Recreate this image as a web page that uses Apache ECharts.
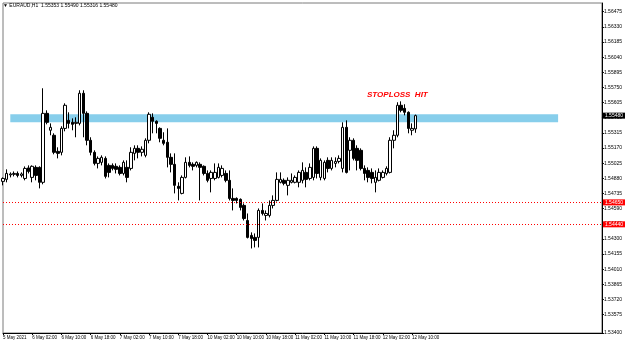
<!DOCTYPE html>
<html>
<head>
<meta charset="utf-8">
<script src="https://cdn.jsdelivr.net/npm/echarts/dist/echarts.min.js"></script>
<style>
html,body{margin:0;padding:0;background:#fff;}
#chart{width:625px;height:343px;}
</style>
</head>
<body>
<div id="chart"></div>
<script>
// x-axis tick labels, one every 8 hourly bars
const tickLabels = ["5 May 2021","6 May 02:00","6 May 10:00","6 May 18:00","7 May 02:00","7 May 10:00","7 May 18:00","10 May 02:00","10 May 10:00","10 May 18:00","11 May 02:00","11 May 10:00","11 May 18:00","12 May 02:00","12 May 10:00"];
const slotCount = 165; // visible hourly slots incl. empty space to the right
const categories = [];
for (let i = 0; i < slotCount; i++) categories.push('bar' + i);

// price axis labels
const priceTicks = [1.56475,1.56330,1.56185,1.56040,1.55895,1.55750,1.55605,1.55460,1.55315,1.55170,1.55025,1.54880,1.54735,1.54590,1.54445,1.54300,1.54155,1.54010,1.53865,1.53720,1.53575,1.53400];

const opens = [
1.54851,1.54870,1.54913,1.54918,1.54927,1.54908,1.54879,1.54980,1.54889,1.54985,
1.54985,1.54842,1.55502,1.55340,1.55292,1.55138,1.55129,1.55358,1.55435,1.55416,
1.55406,1.55406,1.55694,1.55502,1.55244,1.55129,1.55023,1.55033,1.55071,1.55004,
1.55004,1.54995,1.54985,1.54927,1.54985,1.54975,1.55119,1.55167,1.55129,1.55100,
1.55244,1.55464,1.55426,1.55358,1.55244,1.55225,1.55081,1.55014,1.54804,1.54736,
1.54889,1.55033,1.55014,1.55004,1.55014,1.54995,1.54927,1.54879,1.54879,1.54889,
1.54908,1.54927,1.54861,1.54688,1.54688,1.54679,1.54621,1.54477,1.54334,1.54315,
1.54315,1.54573,1.54525,1.54525,1.54621,1.54669,1.54842,1.54861,1.54813,1.54842,
1.54842,1.54842,1.54861,1.54937,1.54879,1.54889,1.55167,1.54889,1.54879,1.55052,
1.54975,1.55023,1.55042,1.54975,1.55368,1.55148,1.55244,1.55167,1.55148,1.54975,
1.54956,1.54937,1.54842,1.54861,1.54889,1.54927,1.54937,1.55244,1.55292,1.55579,
1.55550,1.55512,1.55340,1.55353];
const closes = [
1.54879,1.54927,1.54922,1.54927,1.54908,1.54922,1.54975,1.54946,1.54995,1.54908,
1.54842,1.55502,1.55416,1.55368,1.55129,1.55119,1.55358,1.55579,1.55406,1.55397,
1.55416,1.55694,1.55502,1.55244,1.55129,1.55023,1.55071,1.55081,1.54899,1.54937,
1.54975,1.54966,1.54927,1.55033,1.54889,1.55129,1.55167,1.55129,1.55158,1.55244,
1.55493,1.55426,1.55406,1.55263,1.55215,1.55081,1.55014,1.54813,1.54784,1.54889,
1.55033,1.55004,1.54995,1.55033,1.54985,1.54927,1.54861,1.54937,1.54937,1.54985,
1.54975,1.54861,1.54688,1.54669,1.54669,1.54602,1.54496,1.54315,1.54305,1.54286,
1.54573,1.54544,1.54544,1.54621,1.54669,1.54870,1.54870,1.54832,1.54861,1.54861,
1.54889,1.54937,1.54956,1.54870,1.54985,1.55167,1.54927,1.55052,1.55033,1.54975,
1.55052,1.55042,1.55071,1.55368,1.54937,1.55244,1.55071,1.55052,1.54975,1.54927,
1.54889,1.54879,1.54889,1.54937,1.54937,1.54975,1.55244,1.55292,1.55579,1.55531,
1.55512,1.55358,1.55358,1.55480];
const lows = [
1.54813,1.54842,1.54889,1.54899,1.54889,1.54889,1.54861,1.54927,1.54842,1.54861,
1.54784,1.54823,1.55397,1.55292,1.55110,1.55071,1.55100,1.55330,1.55358,1.55340,
1.55273,1.55387,1.55273,1.55196,1.55100,1.55004,1.54975,1.55004,1.54879,1.54889,
1.54956,1.54927,1.54908,1.54908,1.54842,1.54956,1.55052,1.55071,1.55090,1.55081,
1.55215,1.55311,1.55311,1.55225,1.55196,1.54985,1.54937,1.54736,1.54669,1.54727,
1.54879,1.54985,1.54956,1.54985,1.54669,1.54908,1.54842,1.54746,1.54861,1.54879,
1.54889,1.54842,1.54669,1.54573,1.54640,1.54573,1.54477,1.54305,1.54209,1.54219,
1.54219,1.54525,1.54477,1.54506,1.54592,1.54659,1.54832,1.54813,1.54717,1.54832,
1.54832,1.54794,1.54832,1.54794,1.54861,1.54861,1.54879,1.54861,1.54861,1.54937,
1.54956,1.54985,1.55023,1.54937,1.54927,1.54956,1.55052,1.54956,1.54956,1.54861,
1.54842,1.54832,1.54746,1.54851,1.54879,1.54908,1.54927,1.55167,1.55273,1.55512,
1.55483,1.55311,1.55292,1.55316];
const highs = [
1.54889,1.54966,1.54937,1.54946,1.54946,1.54937,1.54994,1.55004,1.55004,1.55004,
1.54995,1.55742,1.55531,1.55406,1.55311,1.55177,1.55378,1.55598,1.55512,1.55454,
1.55464,1.55723,1.55723,1.55521,1.55273,1.55148,1.55090,1.55100,1.55090,1.55023,
1.55023,1.55023,1.55004,1.55052,1.55052,1.55177,1.55196,1.55196,1.55186,1.55263,
1.55512,1.55502,1.55435,1.55368,1.55321,1.55358,1.55119,1.55119,1.54842,1.54908,
1.55081,1.55090,1.55033,1.55042,1.55033,1.55004,1.54956,1.54956,1.55023,1.55023,
1.55004,1.54956,1.54956,1.54784,1.54698,1.54688,1.54640,1.54544,1.54363,1.54353,
1.54592,1.54640,1.54573,1.54669,1.54717,1.54937,1.54937,1.54879,1.54889,1.54927,
1.54908,1.54956,1.55033,1.54985,1.55023,1.55186,1.55186,1.55071,1.55052,1.55081,
1.55081,1.55081,1.55100,1.55416,1.55435,1.55273,1.55263,1.55196,1.55167,1.55004,
1.54985,1.54975,1.54956,1.54975,1.54956,1.54995,1.55273,1.55340,1.55608,1.55617,
1.55589,1.55521,1.55406,1.55490];

// annotations
const zoneTop = 1.55494, zoneBottom = 1.55418, zoneStartBar = 2, zoneEndBar = 152;
const lastPrice = 1.55480;
const redLevels = [1.54650, 1.54440];

const candleData = opens.map((o, i) => [o, closes[i], lows[i], highs[i]]);
const FONT = '"Liberation Sans", Arial, sans-serif';
const firstCat = categories[0], lastCat = categories[slotCount - 1];

function levelLine(v, lineStyle, bg) {
  return [
    {coord: [firstCat, v], lineStyle: lineStyle, label: {show: true, position: 'end', distance: 1, formatter: v.toFixed(5), backgroundColor: bg, color: '#fff', fontSize: 5, padding: [1, 2, 0, 2], fontFamily: FONT}},
    {coord: [lastCat, v]}
  ];
}

const chart = echarts.init(document.getElementById('chart'), null, {renderer: 'canvas'});
chart.setOption({
  animation: false,
  backgroundColor: '#ffffff',
  grid: {left: 1, right: 21, top: 3, bottom: 10, show: true, borderColor: '#7a7a7a', borderWidth: 1, backgroundColor: '#fff'},
  xAxis: {
    type: 'category', data: categories, boundaryGap: false,
    axisLine: {lineStyle: {color: '#000', width: 1}},
    axisTick: {show: true, length: 2, lineStyle: {color: '#000'}, interval: (i) => i % 8 === 0 && i / 8 < tickLabels.length},
    axisLabel: {
      interval: (i) => i % 8 === 0 && i / 8 < tickLabels.length,
      formatter: (v, i) => (i % 8 === 0 && tickLabels[i / 8]) ? tickLabels[i / 8] : '',
      align: 'left', margin: 2, fontSize: 4.5, color: '#000', fontFamily: FONT, hideOverlap: false
    },
    splitLine: {show: false}
  },
  yAxis: {
    type: 'value', position: 'right', min: 1.53400, max: 1.56558, scale: true,
    axisLine: {show: true, lineStyle: {color: '#000', width: 1}},
    axisTick: {show: true, length: 2, customValues: priceTicks, lineStyle: {color: '#000'}},
    axisLabel: {customValues: priceTicks, formatter: (v) => v.toFixed(5), fontSize: 5, color: '#000', margin: 2, fontFamily: FONT},
    splitLine: {show: false}
  },
  graphic: [
    {type: 'text', left: 3, top: 3, style: {text: '\u25BC EURAUD,H1  1.55353 1.55490 1.55316 1.55480', fontSize: 5, fill: '#000', fontFamily: FONT}},
    {type: 'text', left: 367, top: 91, z: 10, style: {text: 'STOPLOSS  HIT', fontSize: 8, fontWeight: 'bold', fontStyle: 'italic', fill: '#ff0000', fontFamily: FONT}}
  ],
  series: [
    {
      type: 'line', data: [], z: 1, silent: true,
      markArea: {silent: true, itemStyle: {color: '#87CEEB', opacity: 1},
        data: [[{xAxis: categories[zoneStartBar], yAxis: zoneTop}, {xAxis: categories[zoneEndBar], yAxis: zoneBottom}]]}
    },
    {
      type: 'candlestick', data: candleData, z: 2, barWidth: 3, silent: true,
      itemStyle: {color: '#ffffff', color0: '#000000', borderColor: '#000000', borderColor0: '#000000', borderWidth: 1}
    },
    {
      type: 'line', data: [], z: 5, silent: true,
      markLine: {
        silent: true, symbol: ['none', 'none'], animation: false,
        data: [
          levelLine(redLevels[0], {color: '#ff0000', type: [1, 2], width: 1}, '#ff0000'),
          levelLine(redLevels[1], {color: '#ff0000', type: [1, 2], width: 1}, '#ff0000'),
          levelLine(lastPrice, {color: 'rgba(0,0,0,0)', width: 0}, '#000000')
        ]
      }
    }
  ]
});
</script>
</body>
</html>
